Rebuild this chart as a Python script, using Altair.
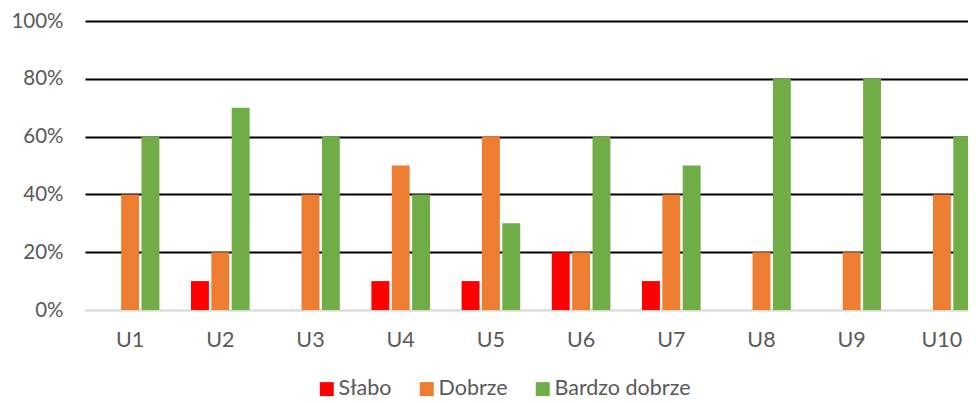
import altair as alt
import pandas as pd

categories = ["U1", "U2", "U3", "U4", "U5", "U6", "U7", "U8", "U9", "U10"]
series = ["Słabo", "Dobrze", "Bardzo dobrze"]
slabo = [0.0, 0.1, 0.0, 0.1, 0.1, 0.2, 0.1, 0.0, 0.0, 0.0]
dobrze = [0.4, 0.2, 0.4, 0.5, 0.6, 0.2, 0.4, 0.2, 0.2, 0.4]
bardzo = [0.6, 0.7, 0.6, 0.4, 0.3, 0.6, 0.5, 0.8, 0.8, 0.6]
colors = ["#FF0000", "#ED7D31", "#70AD47"]

rows = []
for i, c in enumerate(categories):
    for s, vals in zip(series, [slabo, dobrze, bardzo]):
        rows.append({"cat": c, "series": s, "value": vals[i]})
df = pd.DataFrame(rows)

FONT = "Lato"
GREY = "#595959"

chart = alt.Chart(df).mark_bar().encode(
    x=alt.X("cat:N", sort=categories, title=None,
            scale=alt.Scale(paddingInner=0.35, paddingOuter=0.175, range=[0, 902]),
            axis=alt.Axis(labelAngle=0, labelFontSize=21.5, labelColor=GREY, labelFont=FONT,
                          labelPadding=19, ticks=False, domainColor="#D9D9D9", domainWidth=1.5)),
    xOffset=alt.XOffset("series:N", sort=series, scale=alt.Scale(paddingInner=0.12)),
    y=alt.Y("value:Q", title=None,
            scale=alt.Scale(domain=[0, 1]),
            axis=alt.Axis(format="%", values=[0, 0.2, 0.4, 0.6, 0.8, 1.0], labelFontSize=20.5,
                          labelColor=GREY, labelFont=FONT, labelPadding=22, ticks=False, domain=False,
                          gridColor=alt.condition("datum.value == 0", alt.value("#D9D9D9"), alt.value("black")),
                          gridWidth=2)),
    color=alt.Color("series:N", sort=series,
                    scale=alt.Scale(domain=series, range=colors),
                    legend=alt.Legend(title=None, orient="none", direction="horizontal",
                                      legendX=231, legendY=357, symbolType="square",
                                      symbolSize=196, symbolStrokeWidth=0, labelFontSize=21.5,
                                      labelColor=GREY, labelFont=FONT, labelOffset=1,
                                      columnPadding=24)),
).properties(
    width=883, height=289,
    autosize=alt.AutoSizeParams(type="none"),
    padding={"left": 77, "top": 13, "right": 0, "bottom": 90},
    background="white",
).configure_view(stroke=None)

chart.save("out.html", embed_options={"renderer": "svg", "actions": False})
